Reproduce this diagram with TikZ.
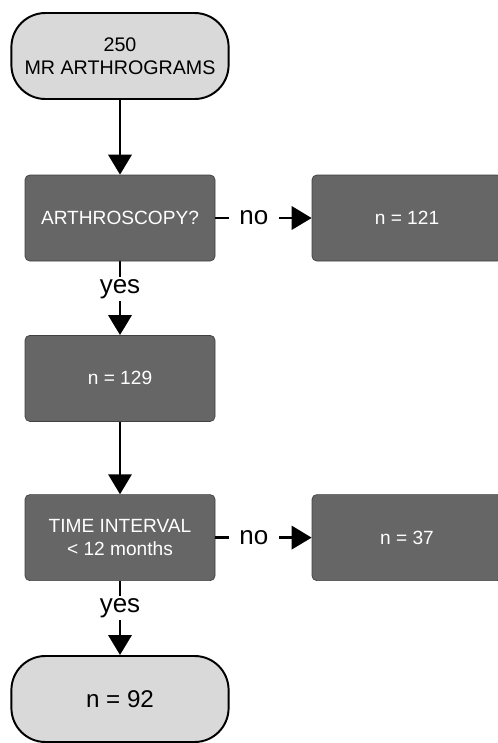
\documentclass[tikz,border=0pt]{standalone}
\usepackage{fontspec}
\setmainfont{Liberation Sans}
\usetikzlibrary{arrows.meta}
\definecolor{boxgray}{HTML}{666666}
\definecolor{termgray}{HTML}{D9D9D9}
\begin{document}
\begin{tikzpicture}[
    term/.style={draw=black,line width=1.4pt,fill=termgray,rounded corners=0.85cm,
        minimum width=5.43cm,minimum height=2.15cm,align=center},
    procbox/.style={draw=black!75,line width=0.5pt,fill=boxgray,rounded corners=0.12cm,
        minimum width=4.75cm,minimum height=2.15cm,text=white,align=center,
        font=\fontsize{13.6}{16.5}\selectfont},
    flow/.style={line width=2.1pt,-{Triangle[length=0.5cm,width=0.58cm]}},
    answer/.style={fill=white,inner xsep=0.27cm,inner ysep=0.06cm,
        font=\fontsize{18.5}{22}\selectfont}
]
    \useasboundingbox (0,0) rectangle (12.45,-18.575);
    \pgfmathsetmacro\xl{3.0};
    \pgfmathsetmacro\xr{10.175};
    % main column
    \node[term,font=\fontsize{14}{16}\selectfont] (start) at (\xl,-1.4) {250\\MR ARTHROGRAMS};
    \node[procbox] (arthro) at (\xl,-5.45) {ARTHROSCOPY?};
    \node[procbox] (n129) at (\xl,-9.46) {n = 129};
    \node[procbox] (interval) at (\xl,-13.44) {TIME INTERVAL\\< 12 months};
    \node[term,font=\fontsize{17.2}{20}\selectfont] (final) at (\xl,-17.475) {n = 92};
    % excluded
    \node[procbox] (n121) at (\xr,-5.45) {n = 121};
    \node[procbox] (n37) at (\xr,-13.44) {n = 37};
    % connectors
    \draw[flow] (start) -- (arthro);
    \draw[flow] (arthro) -- node[answer,pos=0.4] {no} (n121);
    \draw[flow] (arthro) -- node[answer,pos=0.38] {yes} (n129);
    \draw[flow] (n129) -- (interval);
    \draw[flow] (interval) -- node[answer,pos=0.4] {no} (n37);
    \draw[flow] (interval) -- node[answer,pos=0.37] {yes} (final);
\end{tikzpicture}
\end{document}
